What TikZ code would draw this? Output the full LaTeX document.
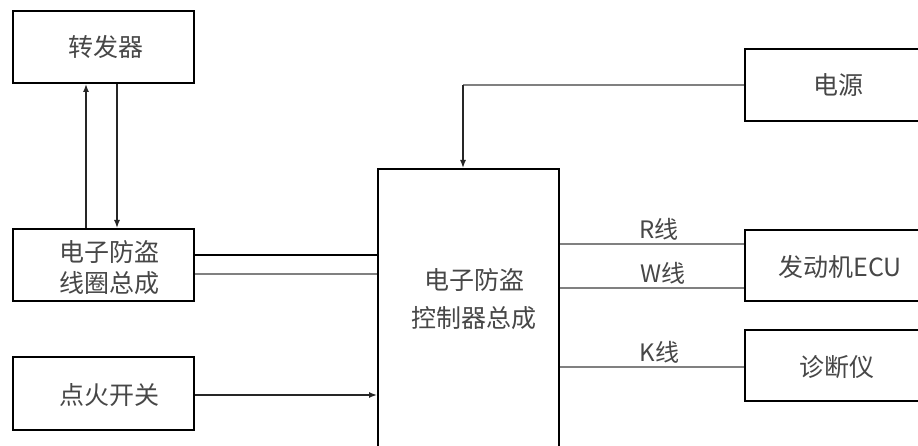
\documentclass[tikz,border=0pt]{standalone}
\usepackage{fontspec}
\newfontfamily\cjk{Noto Sans CJK SC}
\usetikzlibrary{arrows.meta}
\begin{document}
\begin{tikzpicture}[x=1pt,y=-1pt,
  blk/.style={draw=black,line width=2pt,minimum width=181pt,minimum height=72pt,inner sep=0pt},
  rblk/.style={draw=black,line width=2pt,minimum width=190pt,minimum height=72pt,inner sep=0pt},
  txt/.style={text=black!72,font=\cjk\fontsize{25}{31}\selectfont,align=center},
  lbl/.style={text=black!72,font=\cjk\fontsize{24}{28}\selectfont,inner sep=0pt},
  wire/.style={line width=1.4pt,black!85},
  gwire/.style={line width=1.4pt,black!50},
  arr/.style={-{Latex[length=8pt,width=6pt]}}]
\clip (0,0) rectangle (918,446);
\fill[white] (0,0) rectangle (918,446);
% boxes
\node[blk] (zfq) at (103.5,47) {};
\node[txt] (zfqt) at (106,47) {转发器};
\node[blk] (coil) at (103.5,265) {};
\node[txt] (coilt) at (109,268) {电子防盗\\线圈总成};
\node[blk,minimum height=73pt] (ign) at (103.5,393.5) {};
\node[txt] (ignt) at (109,395) {点火开关};
\node[blk,minimum height=291pt] (main) at (468.5,314.5) {};
\node[txt,font=\cjk\fontsize{25}{38}\selectfont] (maint) at (474,299) {电子防盗\\控制器总成};
\node[rblk] (pwr) at (840,85) {};
\node[txt] (pwrt) at (838,85) {电源};
\node[rblk,minimum height=71pt] (ecu) at (840,265.5) {};
\node[txt] (ecut) at (840,267) {发动机ECU};
\node[rblk,minimum height=71pt] (diag) at (840,365.5) {};
\node[txt] (diagt) at (837,367) {诊断仪};
% transponder links
\draw[wire,arr] ([xshift=-17.5pt]coil.north) -- ([xshift=-17.5pt]zfq.south);
\draw[wire,arr] ([xshift=13.5pt]zfq.south) -- ([xshift=13.5pt]coil.north);
% coil to main
\coordinate (c1) at ([yshift=10pt]coil.east);
\coordinate (c2) at ([yshift=-9pt]coil.east);
\draw[line width=2pt,black] (c1) -- (c1 -| main.west);
\draw[gwire] (c2) -- (c2 -| main.west);
% ignition
\coordinate (i1) at ([yshift=-1.5pt]ign.east);
\draw[wire,arr] (i1) -- (i1 -| main.west);
% power
\draw[gwire] (pwr.west) -- (pwr.west -| 463,0);
\coordinate (p1) at ([xshift=-5.5pt]main.north);
\draw[wire,arr] (pwr.west -| p1) -- (p1);
% R, W, K lines
\coordinate (rR) at ([yshift=21.5pt]ecu.west);
\coordinate (rW) at ([yshift=-22.5pt]ecu.west);
\coordinate (rK) at ([yshift=-1.5pt]diag.west);
\draw[gwire] (rR -| main.east) -- node[lbl,above=3pt,pos=0.54] {R线} (rR);
\draw[gwire] (rW -| main.east) -- node[lbl,above=3pt,pos=0.56] {W线} (rW);
\draw[gwire] (rK -| main.east) -- node[lbl,above=3pt,pos=0.54] {K线} (rK);
\end{tikzpicture}
\end{document}
